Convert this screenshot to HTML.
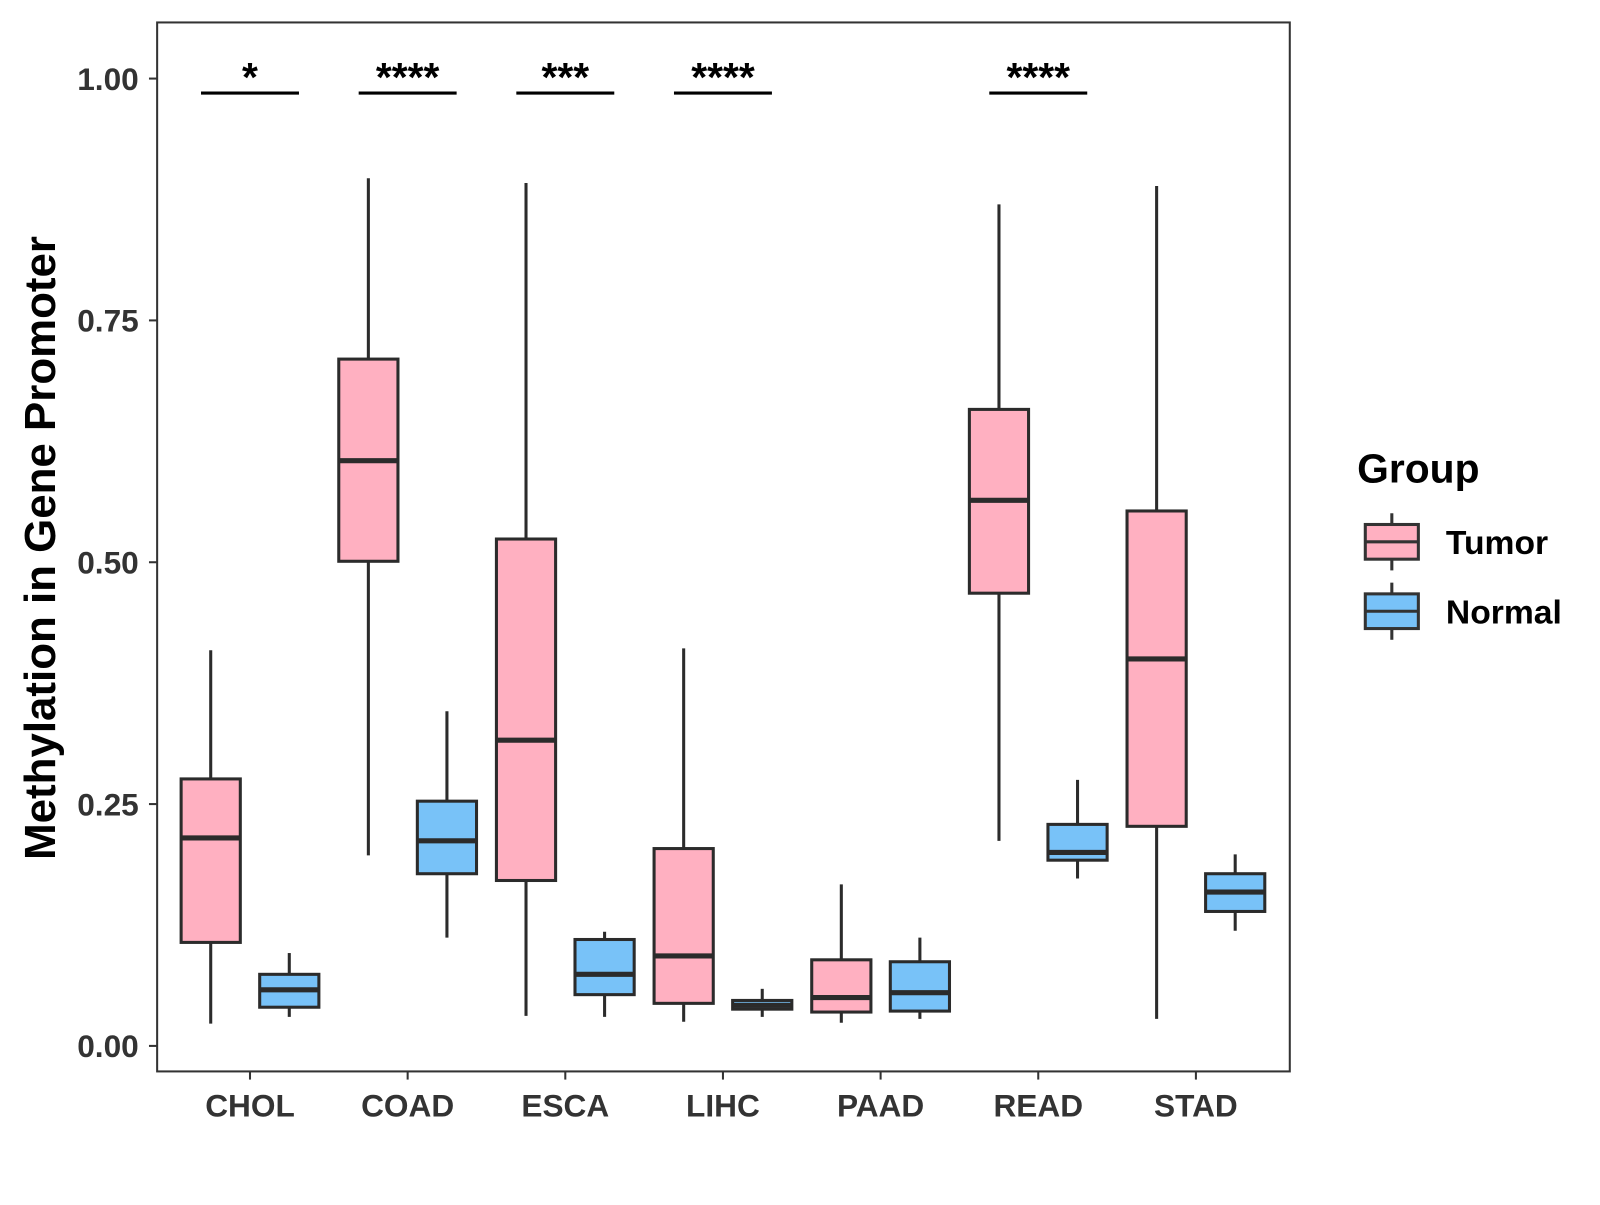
<!DOCTYPE html>
<html><head><meta charset="utf-8"><style>
body{margin:0;background:#fff;}
svg text{font-family:"Liberation Sans",Arial,sans-serif;font-weight:bold;}
</style></head><body>
<svg id="chart" width="1600" height="1200" viewBox="0 0 1600 1200" xmlns="http://www.w3.org/2000/svg">
<rect x="0" y="0" width="1600" height="1200" fill="#fff"/>
<g transform="scale(1.0204)">
<rect x="154" y="22" width="1110" height="1028" fill="none" stroke="#333" stroke-width="2"/>
<g id="marks"></g>
<text x="54" y="537" font-size="43" fill="#000" text-anchor="middle" transform="rotate(-90 54 537)">Methylation in Gene Promoter</text>
<g>
<text x="1330" y="473" font-size="40" fill="#000">Group</text>
<g>
<line x1="1364" y1="503" x2="1364" y2="559" stroke="#333" stroke-width="3"/>
<rect x="1338" y="514" width="52" height="34" fill="#FFB0C1" stroke="#333" stroke-width="3"/>
<line x1="1338" y1="531" x2="1390" y2="531" stroke="#333" stroke-width="3"/>
<text x="1417" y="543" font-size="33" fill="#000">Tumor</text>
</g>
<g>
<line x1="1364" y1="571" x2="1364" y2="627" stroke="#333" stroke-width="3"/>
<rect x="1338" y="582" width="52" height="34" fill="#78C2F8" stroke="#333" stroke-width="3"/>
<line x1="1338" y1="599" x2="1390" y2="599" stroke="#333" stroke-width="3"/>
<text x="1417" y="611" font-size="33" fill="#000">Normal</text>
</g>
</g>
</g>
</svg>
<script>
const categories = ["CHOL","COAD","ESCA","LIHC","PAAD","READ","STAD"];
// [low, q1, median, q3, high]
const tumorStats = [
 [0.023,0.107,0.215,0.276,0.409],
 [0.197,0.501,0.605,0.710,0.897],
 [0.031,0.171,0.316,0.524,0.892],
 [0.025,0.044,0.093,0.204,0.411],
 [0.024,0.035,0.050,0.089,0.167],
 [0.212,0.468,0.564,0.658,0.870],
 [0.028,0.227,0.400,0.553,0.889]
];
const normalStats = [
 [0.030,0.040,0.058,0.074,0.096],
 [0.112,0.178,0.212,0.253,0.346],
 [0.030,0.053,0.074,0.110,0.118],
 [0.030,0.038,0.042,0.047,0.059],
 [0.028,0.036,0.055,0.087,0.112],
 [0.173,0.192,0.200,0.229,0.275],
 [0.119,0.139,0.159,0.178,0.198]
];
const sigLabels = ["*","****","***","****","","****",""];
const yTicks = [0,0.25,0.5,0.75,1];
const yTickLabels = ["0.00","0.25","0.50","0.75","1.00"];
const sigLevel = 0.985;

const NS="http://www.w3.org/2000/svg";
const g=document.getElementById('marks');
function y(v){return 1025-v*948;}
function x(i){return 245+i*154.5;}
function mk(tag,attrs,parent){const e=document.createElementNS(NS,tag);for(const k in attrs)e.setAttribute(k,attrs[k]);(parent||g).appendChild(e);return e;}

yTicks.forEach((t,i)=>{
 const tk=mk('line',{x1:146,x2:154,y1:y(t),y2:y(t),stroke:'#333','stroke-width':2});
 
 
 const tl=mk('text',{x:136,y:y(t)+11,'font-size':31,fill:'#333','text-anchor':'end'});
 tl.textContent=yTickLabels[i];
 
 
});
categories.forEach((c,i)=>{
 const tk=mk('line',{x1:x(i),x2:x(i),y1:1050,y2:1058,stroke:'#333','stroke-width':2});
 
 
 const tl=mk('text',{x:x(i),y:1094,'font-size':31,fill:'#333','text-anchor':'middle'});
 tl.textContent=c;
 
 
});
function box(cx,s,fill,name){
 const grp=mk('g',{});
 
 
 mk('line',{x1:cx,x2:cx,y1:y(s[4]),y2:y(s[0]),stroke:'#2b2b2b','stroke-width':3},grp);
 mk('rect',{x:cx-29,width:58,y:y(s[3]),height:y(s[1])-y(s[3]),fill:fill,stroke:'#2b2b2b','stroke-width':3},grp);
 mk('line',{x1:cx-29,x2:cx+29,y1:y(s[2]),y2:y(s[2]),stroke:'#2b2b2b','stroke-width':5},grp);
}
categories.forEach((c,i)=>{
 box(x(i)-38.5,tumorStats[i],'#FFB0C1','box-tumor-'+c.toLowerCase());
 box(x(i)+38.5,normalStats[i],'#78C2F8','box-normal-'+c.toLowerCase());
 if(sigLabels[i]){
  const l=mk('line',{x1:x(i)-48,x2:x(i)+48,y1:y(sigLevel),y2:y(sigLevel),stroke:'#000','stroke-width':3});
  
  
  const t=mk('text',{x:x(i),y:y(sigLevel)-2,'font-size':40,fill:'#000','text-anchor':'middle'});
  t.textContent=sigLabels[i];
  
  
 }
});
</script>
</body></html>
